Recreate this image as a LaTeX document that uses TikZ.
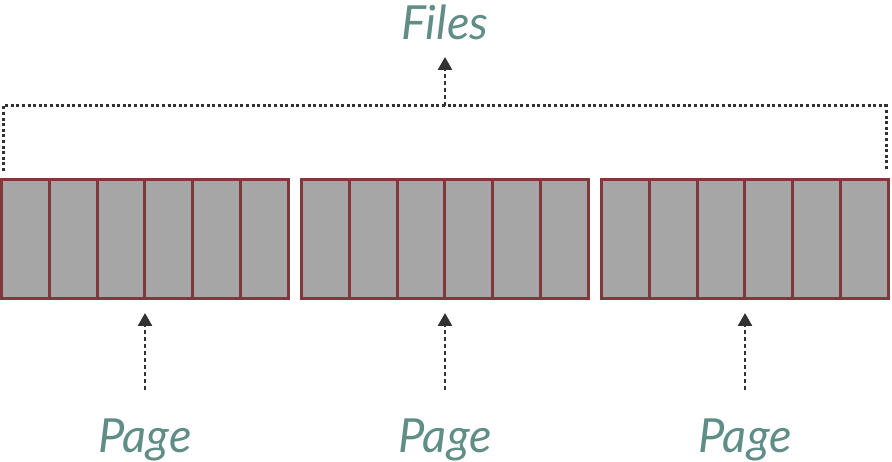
\documentclass[tikz,border=0pt]{standalone}
\usepackage{fontspec}
\setmainfont{Lato}
\usetikzlibrary{arrows.meta}
\definecolor{labelteal}{RGB}{96,142,135}
\definecolor{cellfill}{RGB}{166,166,166}
\definecolor{celledge}{RGB}{128,56,60}
\definecolor{guide}{RGB}{50,50,50}
\tikzset{
  cellbox/.style={draw=celledge, fill=cellfill, line width=3pt,
    minimum width=47.75pt, minimum height=118.5pt, inner sep=0pt, outer sep=0pt},
  tag/.style={text=labelteal, font=\fontsize{47}{50}\selectfont\itshape, inner sep=0pt},
  bracket/.style={draw=guide, line width=3pt, dash pattern=on 3pt off 2.6pt},
  pointer/.style={draw=guide, line width=2.6pt, dash pattern=on 4pt off 3pt,
    -{Triangle[width=14pt,length=13pt]}},
}
\begin{document}
\begin{tikzpicture}[x=1pt, y=-1pt]
  \useasboundingbox (0,0) rectangle (892,462);
  % three pages of six cells each
  \foreach \b/\x in {1/1.5, 2/301.5, 3/601.5} {
    \foreach \c in {1,...,6} {
      \node[cellbox] (b\b c\c) at ({\x + (\c-0.5)*47.75}, 239.25) {};
    }
  }
  % file bracket over all pages
  \coordinate (bl) at (3,171);
  \coordinate (tl) at (3,106);
  \coordinate (tr) at (886,106);
  \coordinate (br) at (886,171);
  \coordinate (tm) at (445,106);
  \draw[bracket] (bl) -- (tl) -- (tr) -- (br);
  \node[tag, anchor=base] (files) at (445,40) {Files};
  \draw[pointer] (tm) -- (445,57);
  % page labels with their pointers
  \foreach \b/\x in {1/145, 2/445, 3/745} {
    \node[tag, anchor=base] (page\b) at (\x,452) {Page};
    \coordinate (foot\b) at (\x,390);
    \draw[pointer] (foot\b) -- (\x,313);
  }
\end{tikzpicture}
\end{document}
